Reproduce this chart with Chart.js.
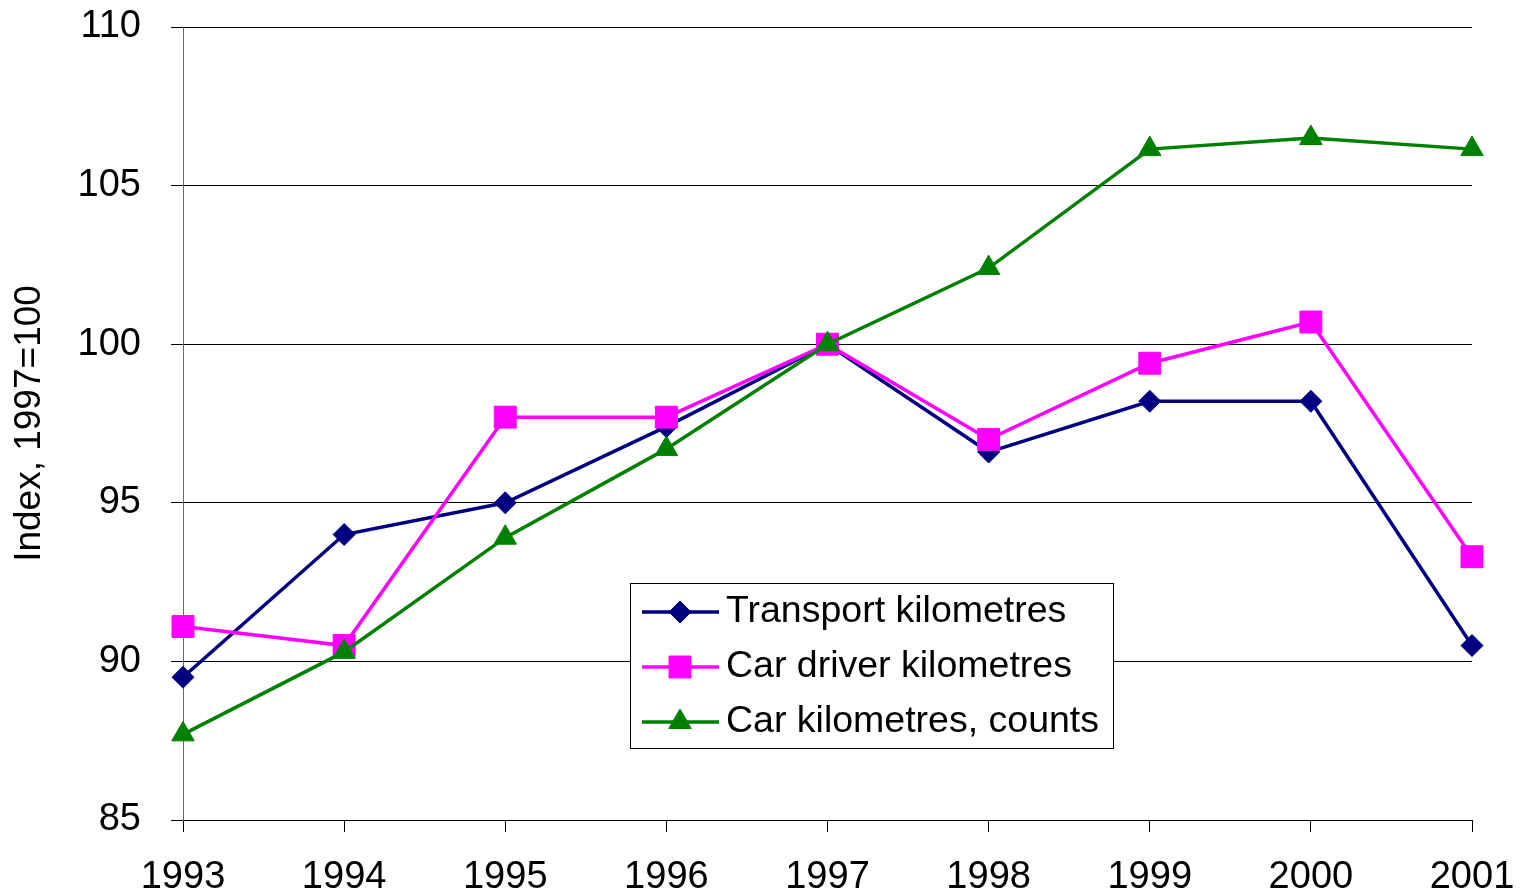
<!DOCTYPE html>
<html>
<head>
<meta charset="utf-8">
<title>Index 1997=100</title>
<script src="https://cdn.jsdelivr.net/npm/chart.js@4/dist/chart.umd.min.js"></script>
<style>
  html, body { margin: 0; padding: 0; background: #fff; overflow: hidden; }
  canvas { display: block; }
</style>
</head>
<body>
<canvas id="grafico" width="1522" height="895"></canvas>
<script>
const anos = ['1993', '1994', '1995', '1996', '1997', '1998', '1999', '2000', '2001'];
const transportKm = [89.5, 94.0, 95.0, 97.4, 100, 96.6, 98.2, 98.2, 90.5];
const carDriverKm = [91.1, 90.5, 97.7, 97.7, 100, 97.0, 99.4, 100.7, 93.3];
const carKmCounts = [87.7, 90.3, 93.9, 96.7, 100, 102.4, 106.15, 106.5, 106.15];
const yTicks = [85, 90, 95, 100, 105, 110];

const fonte = "'Liberation Sans', Arial, sans-serif";

// desenha um marcador simples (usado na legenda)
function marcador(ctx, estilo, raio, x, y, cor) {
  ctx.save();
  ctx.fillStyle = cor;
  ctx.strokeStyle = cor;
  ctx.lineWidth = 1;
  ctx.beginPath();
  if (estilo === 'rectRot') {
    ctx.moveTo(x, y - raio);
    ctx.lineTo(x + raio, y);
    ctx.lineTo(x, y + raio);
    ctx.lineTo(x - raio, y);
  } else if (estilo === 'rect') {
    const s = Math.SQRT1_2 * raio;
    ctx.rect(x - s, y - s, 2 * s, 2 * s);
  } else {
    const w = raio * Math.cos(Math.PI / 6);
    ctx.moveTo(x, y - raio);
    ctx.lineTo(x + w, y + raio / 2);
    ctx.lineTo(x - w, y + raio / 2);
  }
  ctx.closePath();
  ctx.fill();
  ctx.stroke();
  ctx.restore();
}

const legendaCaixa = {
  id: 'legendaCaixa',
  afterDatasetsDraw(chart) {
    const ctx = chart.ctx;
    const x0 = 630, y0 = 583, w = 483, h = 165;
    ctx.save();
    ctx.fillStyle = '#fff';
    ctx.fillRect(x0, y0, w, h);
    ctx.strokeStyle = '#000';
    ctx.lineWidth = 1;
    ctx.strokeRect(x0 + 0.5, y0 + 0.5, w, h);
    chart.data.datasets.forEach((ds, i) => {
      const yy = 612 + i * 55;
      ctx.strokeStyle = ds.borderColor;
      ctx.lineWidth = 3.5;
      ctx.beginPath();
      ctx.moveTo(642, yy);
      ctx.lineTo(719, yy);
      ctx.stroke();
      marcador(ctx, ds.pointStyle, ds.pointRadius, 680, yy, ds.borderColor);
      ctx.fillStyle = '#000';
      ctx.font = '37.5px ' + fonte;
      ctx.textAlign = 'left';
      ctx.textBaseline = 'middle';
      ctx.fillText(ds.label, 726, yy);
    });
    ctx.restore();
  }
};

new Chart(document.getElementById('grafico').getContext('2d'), {
  type: 'line',
  data: {
    labels: anos,
    datasets: [
      {
        label: 'Transport kilometres',
        data: transportKm,
        borderColor: '#000080',
        backgroundColor: '#000080',
        pointStyle: 'rectRot',
        pointRadius: 11,
        borderWidth: 3.5,
        pointBorderWidth: 1,
        tension: 0,
        order: 3
      },
      {
        label: 'Car driver kilometres',
        data: carDriverKm,
        borderColor: '#FF00FF',
        backgroundColor: '#FF00FF',
        pointStyle: 'rect',
        pointRadius: 15.5,
        borderWidth: 3.5,
        pointBorderWidth: 1,
        tension: 0,
        order: 2
      },
      {
        label: 'Car kilometres, counts',
        data: carKmCounts,
        borderColor: '#008000',
        backgroundColor: '#008000',
        pointStyle: 'triangle',
        pointRadius: 13,
        borderWidth: 3.5,
        pointBorderWidth: 1,
        tension: 0,
        order: 1
      }
    ]
  },
  options: {
    responsive: false,
    animation: false,
    layout: { padding: { top: 27, right: 50, left: 0, bottom: 0 } },
    plugins: {
      legend: { display: false },
      tooltip: { enabled: false }
    },
    scales: {
      x: {
        offset: false,
        grid: { drawOnChartArea: false, drawTicks: true, tickLength: 12, color: '#000', lineWidth: 1 },
        border: { color: '#000', width: 1 },
        ticks: {
          color: '#000',
          font: { family: fonte, size: 38 },
          padding: 23,
          maxRotation: 0,
          autoSkip: false
        },
        afterFit(scale) {
          scale.height = 75;
          scale.paddingLeft = 0;
          scale.paddingRight = 0;
        }
      },
      y: {
        min: 85,
        max: 110,
        afterBuildTicks(scale) { scale.ticks = yTicks.map(v => ({ value: v })); },
        grid: { color: '#000', lineWidth: 1, tickLength: 12 },
        border: { color: '#666', width: 1 },
        ticks: {
          color: '#000',
          font: { family: fonte, size: 38 },
          padding: 30
        },
        title: {
          display: true,
          text: 'Index, 1997=100',
          color: '#000',
          font: { family: fonte, size: 37 },
          padding: { top: 8, bottom: 0 }
        },
        afterFit(scale) {
          scale.width = 183;
          scale.paddingTop = 0;
          scale.paddingBottom = 0;
        }
      }
    }
  },
  plugins: [legendaCaixa]
});
</script>
</body>
</html>
